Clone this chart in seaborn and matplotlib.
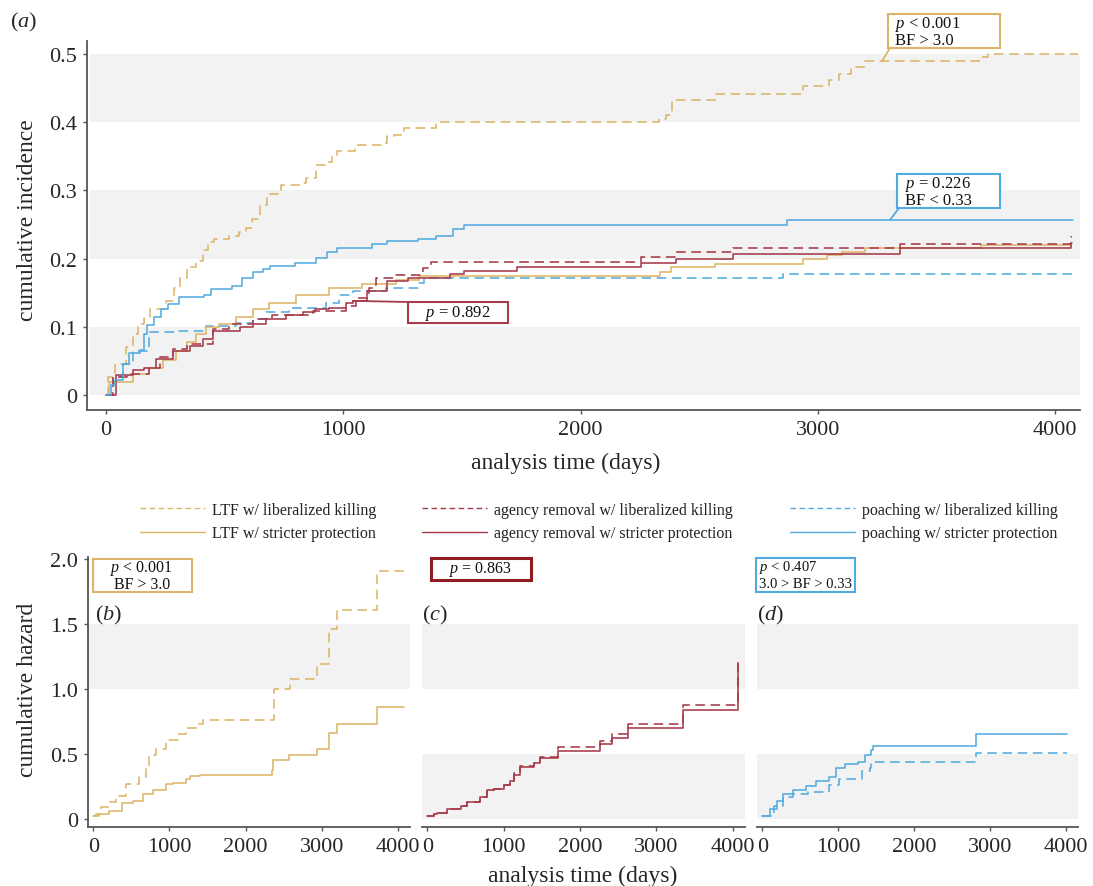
import numpy as np
import pandas as pd
import matplotlib
matplotlib.use("Agg")
import matplotlib.pyplot as plt
import seaborn as sns
from matplotlib.lines import Line2D
from matplotlib.patches import Rectangle

# ---------------- data (step points: time in days, value after the step) ----------------
# Panel (a): cumulative incidence
a_ltf_lib_t = [0, 10, 40, 85, 112, 135, 160, 185, 255, 285, 310, 340, 380, 410, 430, 455, 520, 560, 590, 615,
               648, 680, 737, 826, 841, 886, 938, 953, 975, 1049, 1168, 1183, 1212, 1257, 1390, 2330, 2360, 2385,
               2565, 2937, 3048, 3090, 3140, 3197, 3680, 3717, 4095]
a_ltf_lib_v = [0, .027, .046, .070, .089, .104, .113, .126, .138, .157, .171, .187, .196, .213, .225, .228, .233,
               .239, .245, .258, .278, .294, .308, .311, .318, .337, .342, .352, .357, .366, .369, .379, .381, .391,
               .400, .405, .411, .432, .442, .453, .462, .471, .481, .489, .495, .500, .500]
a_ltf_str_t = [0, 14, 112, 183, 240, 296, 340, 380, 421, 478, 548, 618, 688, 800, 941, 1081, 1222, 1320, 2335,
               2380, 2565, 2937, 3040, 3100, 3197, 3688, 4067]
a_ltf_str_v = [0, .019, .031, .039, .052, .065, .078, .089, .099, .104, .114, .126, .135, .147, .157, .162, .169,
               .174, .180, .187, .192, .199, .205, .209, .215, .220, .220]
a_age_lib_t = [0, 30, 90, 180, 226, 282, 340, 451, 520, 618, 700, 872, 1011, 1053, 1110, 1138, 1222, 1335, 1370,
               2253, 2401, 2644, 3346, 4067, 4072]
a_age_lib_v = [0, .027, .031, .039, .056, .068, .075, .097, .104, .111, .118, .123, .130, .142, .157, .171, .176,
               .186, .195, .202, .209, .216, .222, .232, .232]
a_age_str_t = [0, 43, 113, 160, 212, 282, 352, 408, 451, 563, 618, 674, 759, 829, 880, 941, 1011, 1039, 1100,
               1183, 1271, 1449, 1509, 1731, 2253, 2401, 2644, 3346, 4067, 4072]
a_age_str_v = [0, .029, .036, .039, .053, .065, .072, .082, .094, .099, .104, .111, .118, .121, .126, .128, .135,
               .138, .153, .167, .172, .177, .182, .188, .194, .200, .206, .215, .223, .223]
a_poa_lib_t = [0, 28, 70, 112, 183, 309, 421, 548, 618, 674, 772, 927, 983, 1039, 1180, 1320, 1341, 2855, 4089]
a_poa_lib_v = [0, .027, .046, .065, .092, .094, .101, .106, .111, .121, .128, .135, .147, .152, .157, .164, .171,
               .177, .177]
a_poa_str_t = [0, 20, 40, 70, 99, 144, 159, 174, 203, 233, 263, 307, 411, 441, 530, 574, 619, 663, 693, 797, 886,
               930, 975, 1123, 1183, 1316, 1390, 1464, 1509, 2870, 4074]
a_poa_str_v = [0, .015, .022, .046, .061, .066, .090, .102, .114, .126, .133, .143, .146, .155, .160, .172, .180,
               .184, .189, .194, .201, .209, .216, .221, .226, .228, .233, .243, .249, .257, .257]

# Panel (b): LTF cumulative hazard
b_lib_t = [0, 40, 100, 207, 300, 427, 604, 692, 736, 824, 956, 1132, 1220, 1352, 1441, 2370, 2586, 2938, 3093,
           3203, 3731, 4106]
b_lib_v = [.02, .04, .09, .13, .18, .27, .32, .41, .49, .54, .61, .65, .70, .73, .76, 1.0, 1.075, 1.19, 1.46,
           1.61, 1.91, 1.91]
b_str_t = [0, 70, 200, 383, 515, 648, 780, 956, 1044, 1220, 1264, 1396, 2350, 2366, 2564, 2938, 3093, 3203, 3731,
           4084]
b_str_v = [.02, .04, .06, .12, .14, .19, .22, .27, .28, .31, .33, .34, .38, .45, .49, .54, .66, .73, .86, .86]

# Panel (c): agency removal cumulative hazard
c_lib_t = [0, 87, 130, 261, 435, 522, 696, 783, 870, 1000, 1087, 1130, 1217, 1391, 1478, 1717, 2261, 2413, 2630,
           3348, 4065, 4070]
c_lib_v = [.02, .04, .05, .08, .10, .13, .17, .22, .23, .26, .29, .35, .41, .43, .48, .55, .60, .65, .73, .88,
           1.21, 1.21]
c_str_t = [0, 87, 130, 261, 435, 522, 696, 783, 870, 1000, 1087, 1130, 1217, 1391, 1478, 1717, 2261, 2413, 2630,
           3348, 4065, 4070]
c_str_v = [.02, .04, .05, .08, .10, .13, .17, .22, .23, .26, .29, .34, .40, .43, .47, .52, .58, .62, .70, .84,
           1.19, 1.19]

# Panel (d): poaching cumulative hazard
d_lib_t = [0, 150, 279, 408, 600, 880, 1009, 1309, 1416, 1438, 2811, 4013]
d_lib_v = [.02, .10, .17, .19, .21, .26, .31, .37, .39, .44, .51, .51]
d_str_t = [0, 107, 193, 279, 400, 579, 708, 880, 966, 1094, 1266, 1352, 1438, 1459, 2811, 4013]
d_str_v = [.02, .08, .14, .19, .22, .25, .29, .32, .39, .42, .44, .49, .53, .56, .65, .65]

legend_labels = [["LTF w/ liberalized killing", "LTF w/ stricter protection"],
                 ["agency removal w/ liberalized killing", "agency removal w/ stricter protection"],
                 ["poaching w/ liberalized killing", "poaching w/ stricter protection"]]
x_ticks = [0, 1000, 2000, 3000, 4000]
a_yticks = [0, 0.1, 0.2, 0.3, 0.4, 0.5]
a_yticklabels = ["0", "0.1", "0.2", "0.3", "0.4", "0.5"]
h_yticks = [0, 0.5, 1.0, 1.5, 2.0]
h_yticklabels = ["0", "0.5", "1.0", "1.5", "2.0"]

# ---------------- style ----------------
GOLD = "#DDB468"
RED = "#A63A48"
BLUE = "#52ABE0"
DARKRED = "#8E1C20"
BAND = "#F2F2F2"
SPINE = "#555555"
DASH = (6, 3.5)

sns.set_theme(style="white")
plt.rcParams["font.family"] = ["Liberation Serif", "DejaVu Serif"]
plt.rcParams["mathtext.fontset"] = "custom"
plt.rcParams["mathtext.rm"] = "Liberation Serif"
plt.rcParams["mathtext.it"] = "Liberation Serif:italic"

W, H = 1093, 887
fig = plt.figure(figsize=(W / 100, H / 100), dpi=100)
fig.patch.set_facecolor("white")


def fx(px):
    return px / W


def fy(py):
    return 1 - py / H


def add_ax(x0, y0, x1, y1):
    ax = fig.add_axes([fx(x0), fy(y1), (x1 - x0) / W, (y1 - y0) / H])
    ax.set_facecolor("white")
    return ax


def step(ax, t, v, color, dashed):
    df = pd.DataFrame({"t": t, "v": v})
    sns.lineplot(data=df, x="t", y="v", ax=ax, color=color, drawstyle="steps-post",
                 estimator=None, sort=False, lw=1.15, zorder=3)
    line = ax.get_lines()[-1]
    if dashed:
        line.set_dashes(DASH)


def style_axis(ax, left=True):
    for s in ["top", "right"]:
        ax.spines[s].set_visible(False)
    ax.spines["bottom"].set_color(SPINE)
    ax.spines["bottom"].set_linewidth(1.3)
    if left:
        ax.spines["left"].set_color(SPINE)
        ax.spines["left"].set_linewidth(1.3)
    else:
        ax.spines["left"].set_visible(False)
    ax.tick_params(axis="both", which="both", direction="out", length=3, width=1, color=SPINE,
                   labelsize=16, pad=4, bottom=True, left=left)
    ax.set_xlabel("")
    ax.set_ylabel("")
    ax.grid(False)


# ---------------- panel (a) ----------------
axa = add_ax(87, 42, 1080, 411)
for lo, hi in [(0, 0.1), (0.2, 0.3), (0.4, 0.5)]:
    axa.axhspan(lo, hi, xmin=0.003, xmax=1, color=BAND, lw=0, zorder=0)
step(axa, a_ltf_lib_t, a_ltf_lib_v, GOLD, True)
step(axa, a_poa_lib_t, a_poa_lib_v, BLUE, True)
step(axa, a_ltf_str_t, a_ltf_str_v, GOLD, False)
step(axa, a_age_lib_t, a_age_lib_v, RED, True)
step(axa, a_age_str_t, a_age_str_v, RED, False)
step(axa, a_poa_str_t, a_poa_str_v, BLUE, False)
axa.set_xlim(-80, 4105)
axa.set_ylim(-0.022, 0.519)
axa.set_xticks(x_ticks)
axa.set_yticks(a_yticks)
axa.set_yticklabels(a_yticklabels)
style_axis(axa)

# ---------------- panels (b), (c), (d) ----------------
axb = add_ax(88, 558, 410, 828)
axc = add_ax(422, 558, 745, 828)
axd = add_ax(757, 558, 1078, 828)
axb.axhspan(1.0, 1.5, color=BAND, lw=0, zorder=0)
for ax in (axc, axd):
    ax.axhspan(0, 0.5, color=BAND, lw=0, zorder=0)
    ax.axhspan(1.0, 1.5, color=BAND, lw=0, zorder=0)
step(axb, b_lib_t, b_lib_v, GOLD, True)
step(axb, b_str_t, b_str_v, GOLD, False)
step(axc, c_lib_t, c_lib_v, RED, True)
step(axc, c_str_t, c_str_v, RED, False)
step(axd, d_lib_t, d_lib_v, BLUE, True)
step(axd, d_str_t, d_str_v, BLUE, False)
for ax, left in ((axb, True), (axc, False), (axd, False)):
    ax.set_xlim(-70, 4160)
    ax.set_ylim(-0.0615, 2.015)
    ax.set_xticks(x_ticks)
    ax.set_yticks(h_yticks)
    ax.set_yticklabels(h_yticklabels if left else [""] * len(h_yticks))
    style_axis(ax, left=left)

# ---------------- labels ----------------
fig.text(fx(10), fy(22), r"($a$)", fontsize=16, ha="left", va="center")
fig.text(fx(95), fy(615), r"($b$)", fontsize=16, ha="left", va="center")
fig.text(fx(422), fy(615), r"($c$)", fontsize=16, ha="left", va="center")
fig.text(fx(757), fy(615), r"($d$)", fontsize=16, ha="left", va="center")
fig.text(fx(28), fy(220), "cumulative incidence", fontsize=17, rotation=90, ha="center", va="center")
fig.text(fx(28), fy(690), "cumulative hazard", fontsize=17, rotation=90, ha="center", va="center")
fig.text(fx(566), fy(463), "analysis time (days)", fontsize=17, ha="center", va="center")
fig.text(fx(583), fy(876), "analysis time (days)", fontsize=17, ha="center", va="center")

# ---------------- legends ----------------
colors = [GOLD, RED, BLUE]
anchors = [140, 422, 790]
for labels, col, x0 in zip(legend_labels, colors, anchors):
    handles = [Line2D([], [], color=col, lw=1.0, dashes=(4, 2.5)),
               Line2D([], [], color=col, lw=1.0)]
    leg = fig.legend(handles, labels, loc="upper left", bbox_to_anchor=(fx(x0), fy(503)),
                     frameon=False, fontsize=11.5, handlelength=4.1, handletextpad=0.4,
                     labelspacing=0.45, borderpad=0, borderaxespad=0)
    for txt in leg.get_texts():
        txt.set_color("#222222")


# ---------------- annotation boxes ----------------
def box(x0, y0, x1, y1, color, lw=1.5):
    fig.add_artist(Rectangle((fx(x0), fy(y1)), (x1 - x0) / W, (y1 - y0) / H, transform=fig.transFigure,
                             facecolor="white", edgecolor=color, lw=lw, zorder=5))


def connector(ax, xy, px, py, color):
    ax.annotate("", xy=xy, xycoords="data", xytext=(fx(px), fy(py)), textcoords="figure fraction",
                arrowprops=dict(arrowstyle="-", color=color, lw=1.3, shrinkA=0, shrinkB=0),
                annotation_clip=False, zorder=4)


def btext(px, py, s, size=12, ha="left"):
    t = fig.text(fx(px), fy(py), s, fontsize=size, ha=ha, va="center", color="#111111")
    t.set_zorder(6)


# (a) boxes
connector(axa, (3270, 0.489), 890, 49, GOLD)
box(888, 15, 1000, 49, GOLD)
btext(895, 24, r"$p$ < 0.001")
btext(895, 41, "BF > 3.0")

connector(axa, (3305, 0.257), 899, 209, BLUE)
box(897, 175, 1000, 209, BLUE)
btext(905, 184, r"$p$ = 0.226")
btext(905, 201, "BF < 0.33")

connector(axa, (1040, 0.138), 408, 303, RED)
box(408, 303, 508, 324, RED)
btext(458, 314, r"$p$ = 0.892", ha="center")

# (b), (c), (d) boxes
box(93, 560, 192, 593, GOLD)
btext(142, 569, r"$p$ < 0.001", size=11.5, ha="center")
btext(142, 585, "BF > 3.0", size=11.5, ha="center")

box(431, 559, 531, 581, DARKRED, lw=2.2)
btext(481, 570, r"$p$ = 0.863", size=11.5, ha="center")

box(756, 559, 855, 593, BLUE)
btext(759, 568, r"$p$ < 0.407", size=10.5)
btext(759, 585, "3.0 > BF > 0.33", size=10.5)

fig.savefig("out.png", dpi=100, facecolor="white")
